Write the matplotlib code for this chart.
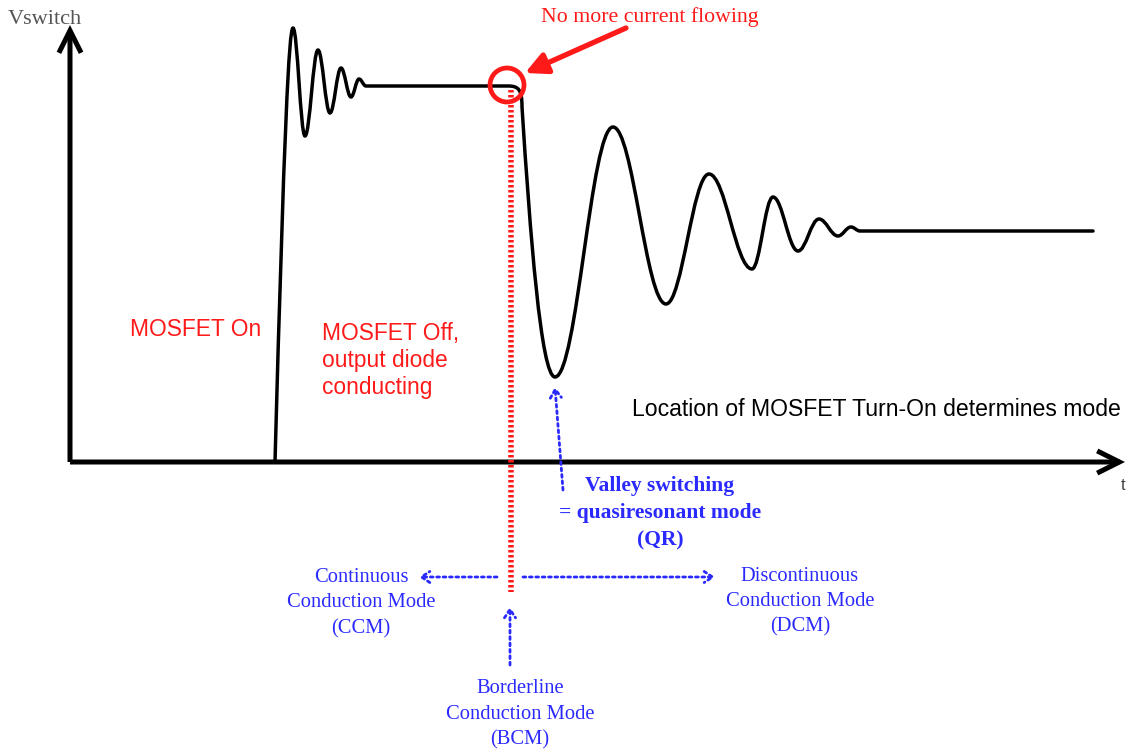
import matplotlib
matplotlib.use("Agg")
import matplotlib.pyplot as plt
from matplotlib.path import Path
from matplotlib.patches import PathPatch, Circle, FancyArrowPatch

# Waveform turning points (t, V)
wave_t = [205, 223, 235, 248, 260, 271, 281, 289, 296, 438, 485, 543, 596, 639, 682, 703, 728, 749, 768, 781, 790, 1023]
wave_v = [0, 434, 326, 412, 349, 394, 365, 383, 376, 376, 85, 335, 158, 288, 193, 265, 211, 243, 226, 235, 231, 231]

# Where the MOSFET turns off again (current stops) and the first valley
bcm_t, bcm_v = 437, 377
valley_t, valley_v = 485, 85

labels_red = ["MOSFET On", "MOSFET Off,\noutput diode\nconducting"]
note_text = "No more current flowing"
mode_text = "Location of MOSFET Turn-On determines mode"
qr_text = "Valley switching\n= quasiresonant mode\n(QR)"
ccm_text = "Continuous\nConduction Mode\n(CCM)"
dcm_text = "Discontinuous\nConduction Mode\n(DCM)"
bcm_text = "Borderline\nConduction Mode\n(BCM)"

SERIF = "Liberation Serif"
SANS = "Liberation Sans"
RED = "#ff1a1a"
BLUE = "#2a2aff"


def ring(p0, p1, k=0.38):
    """Cubic segment between two extrema with flat tangents at both ends."""
    dx = p1[0] - p0[0]
    return [(p0[0] + k * dx, p0[1]), (p1[0] - k * dx, p1[1]), p1]


pts = list(zip(wave_t, wave_v))
verts = [pts[0]]
codes = [Path.MOVETO]
for i in range(len(pts) - 1):
    a, b = pts[i], pts[i + 1]
    if i == 0:
        # steep rise into the first overshoot
        seg = [(a[0] + 9, a[1] + 330), (b[0] - 4, b[1]), b]
    elif a[1] == b[1]:
        verts.append(b)
        codes.append(Path.LINETO)
        continue
    elif i == 9:
        # rounded corner, then steep fall to the first valley
        mid = (a[0] + 14, a[1] - 21)
        seg = [(a[0] + 11, a[1]), (mid[0], a[1] - 4), mid,
               (mid[0] + 8, mid[1] - 125), (b[0] - 14, b[1]), b]
    else:
        seg = ring(a, b)
    verts.extend(seg)
    codes.extend([Path.CURVE4] * len(seg))

fig = plt.figure(figsize=(11.33, 7.53), dpi=100)
ax = fig.add_axes([0, 0, 1, 1])
ax.set_xlim(-70, 1063)
ax.set_ylim(-291, 462)
ax.axis("off")

# axes with open arrow heads
for end in [(0, 437), (1055, 0)]:
    ax.add_patch(FancyArrowPatch((0, 0), end, arrowstyle="->,head_length=16,head_width=8",
                                 mutation_scale=1, lw=3.6, color="black",
                                 shrinkA=0, shrinkB=0, joinstyle="miter", capstyle="butt"))

ax.add_patch(PathPatch(Path(verts, codes), fill=False, lw=2.5, ec="black",
                       capstyle="round", joinstyle="round"))

# red dotted marker where current stops
ax.plot([bcm_t + 4, bcm_t + 4], [bcm_v - 5, -130], color=RED, lw=4,
        linestyle=(0, (0.45, 0.45)), solid_capstyle="butt")
ax.add_patch(Circle((bcm_t, bcm_v), 17, fill=False, ec=RED, lw=3.4))
ax.add_patch(FancyArrowPatch((556, 434), (455, 389), arrowstyle="-|>,head_length=13,head_width=6.5",
                             mutation_scale=1, lw=3.8, color=RED, shrinkA=0, shrinkB=0))
ax.text(580, 445, note_text, color=RED, family=SERIF, fontsize=15.7, ha="center", va="center")

ax.text(-62, 442, "Vswitch", color="#555555", family=SERIF, fontsize=16, ha="left", va="center")
ax.text(1053, -24, "t", color="#444444", family=SANS, fontsize=12, ha="center", va="center")

ax.text(60, 132, labels_red[0], color=RED, family=SANS, fontsize=16.4, ha="left", va="center")
ax.text(252, 140, labels_red[1], color=RED, family=SANS, fontsize=16.4, ha="left", va="top",
        linespacing=1.23)
ax.text(562, 52, mode_text, color="black", family=SANS, fontsize=16.6, ha="left", va="center")

ax.text(590, -14, qr_text, color=BLUE, family=SERIF, fontweight="bold", fontsize=15.5,
        ha="center", va="top", linespacing=1.48)
ax.text(291, -106, ccm_text, color=BLUE, family=SERIF, fontsize=14.8, ha="center", va="top",
        linespacing=1.46)
ax.text(730, -105, dcm_text, color=BLUE, family=SERIF, fontsize=14.8, ha="center", va="top",
        linespacing=1.44)
ax.text(450, -217, bcm_text, color=BLUE, family=SERIF, fontsize=14.8, ha="center", va="top",
        linespacing=1.48)

# blue dotted pointers
blue_arrows = [((493, -28), (valley_t, valley_v - 10)),
               ((427, -115), (349, -115)),
               ((453, -115), (645, -115)),
               ((bcm_t + 3, -203), (bcm_t + 3, -145))]
for start, stop in blue_arrows:
    ax.add_patch(FancyArrowPatch(start, stop, arrowstyle="->,head_length=6,head_width=4",
                                 mutation_scale=1, lw=2, color=BLUE, linestyle=(0, (1, 1.3)),
                                 shrinkA=0, shrinkB=0))

fig.savefig("out.png", dpi=100)
